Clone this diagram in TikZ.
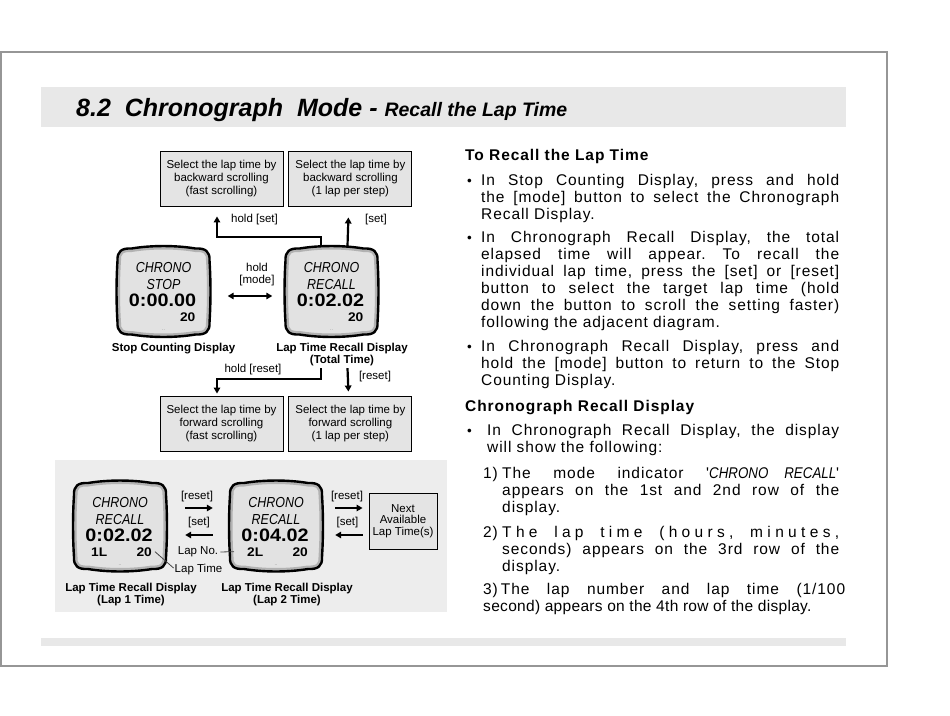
\documentclass[tikz,border=0pt]{standalone}
\usepackage{fontspec}
\setmainfont{Liberation Sans}
\newfontfamily\lcdfont[FakeStretch=0.86]{Liberation Sans}
\newfontfamily\lcdnumfont[FakeStretch=1.1]{Liberation Sans}
\newfontfamily\bodyfont[LetterSpace=6]{Liberation Sans}
\usetikzlibrary{positioning,arrows.meta,calc}
\definecolor{dFrame}{RGB}{150,150,150}
\definecolor{dBand}{RGB}{232,232,232}
\definecolor{dBox}{RGB}{228,228,228}
\definecolor{dLcd}{RGB}{226,226,226}
\definecolor{dRim}{RGB}{178,178,178}
\definecolor{dPanel}{RGB}{237,237,237}
\definecolor{dLead}{RGB}{70,70,70}
\frenchspacing
\tikzset{
  selbox/.style={rectangle, draw=black, fill=dBox, line width=0.9pt,
                 minimum width=123pt, minimum height=55pt, align=center,
                 inner sep=2pt, font=\fontsize{11.5}{13}\selectfont},
  nextbox/.style={selbox, minimum width=68pt, minimum height=56pt,
                  font=\fontsize{11.5}{11.5}\selectfont},
  flow/.style={-{Triangle[length=6pt,width=6.5pt]}, draw=black, line width=2.2pt},
  biflow/.style={{Triangle[length=6pt,width=6.5pt]}-{Triangle[length=6pt,width=6.5pt]},
                 draw=black, line width=2.2pt},
  lbl/.style={font=\fontsize{11.5}{12}\selectfont, inner sep=0pt, align=center},
  capt/.style={font=\bfseries\fontsize{11.5}{12}\selectfont, inner sep=0pt, align=center},
  lead/.style={draw=dLead, line width=0.8pt},
}
\tikzset{
  lcdbox/.style={rectangle, minimum width=92pt, minimum height=91pt, inner sep=0pt},
  lcdedge/.style={draw=black, line width=2.4pt, line join=round},
  lcdrim/.style={draw=dRim, line width=7pt},
  lcdmode/.style={font=\lcdfont\itshape\fontsize{14.5}{14.5}\selectfont, anchor=base, inner sep=0pt},
  lcdtime/.style={font=\lcdnumfont\bfseries\fontsize{18}{18}\selectfont, anchor=base, inner sep=0pt},
  lcdnum/.style={font=\lcdnumfont\bfseries\fontsize{12.5}{12.5}\selectfont, inner sep=0pt},
  lcddots/.style={font=\fontsize{5}{5}\selectfont, text=gray, inner sep=0pt},
}
\tikzset{
  headtxt/.style={font=\bodyfont\bfseries\fontsize{15.5}{17}\selectfont, anchor=base west, inner sep=0pt},
  bodytxt/.style={font=\bodyfont\fontsize{15.5}{17}\selectfont, anchor=base west,
               inner sep=0pt, align=justify},
  numtxt/.style={font=\bodyfont\fontsize{15.5}{17}\selectfont, anchor=base west, inner sep=0pt},
  bul/.style={font=\fontsize{13.5}{17}\selectfont, anchor=base, inner sep=0pt},
}
\newcommand{\LcdShape}{(-46,-31) .. controls (-46.5,-40) and (-42,-43.5) .. (-32,-43)
  .. controls (-12,-46.3) and (12,-46.3) .. (32,-43)
  .. controls (42,-43.5) and (46.5,-40) .. (46,-31)
  .. controls (47.3,-11) and (47.3,11) .. (46,31)
  .. controls (46.5,40) and (42,43.5) .. (32,43)
  .. controls (12,46.3) and (-12,46.3) .. (-32,43)
  .. controls (-42,43.5) and (-46.5,40) .. (-46,31)
  .. controls (-47.3,11) and (-47.3,-11) .. cycle}
\newcommand{\LcdDisp}[8]{%
  \node[lcdbox] (#1) at (#2,#3) {};
  \begin{scope}[shift={(#2,#3)}]
    \fill[dLcd] \LcdShape;
    \begin{scope}\clip \LcdShape; \draw[lcdrim] \LcdShape; \end{scope}
    \draw[lcdedge] \LcdShape;
  \end{scope}
  \node[lcdmode] (#1-a) at ($(#1)+(0,-19)$) {#4};
  \node[lcdmode] (#1-b) at ($(#1)+(0,-2)$) {#5};
  \node[lcdtime] (#1-t) at ($(#1)+(-1,15)$) {#6};
  \node[lcdnum, anchor=base west] (#1-l) at ($(#1)+(-29,30)$) {#7};
  \node[lcdnum, anchor=base east] (#1-r) at ($(#1)+(32,30)$) {#8};
  \node[lcddots] (#1-d) at ($(#1)+(0,39)$) {..};}

\begin{document}
\begin{tikzpicture}[x=1pt,y=-1pt]
  \useasboundingbox (0,0) rectangle (950,715);
  % --- page frame, bands, panel ------------------------------------------
  \draw[dFrame, line width=1.2pt] (1,52) rectangle (887,666);
  \fill[dBand] (41,87) rectangle (846,127);
  \fill[dBand] (41,638) rectangle (846,646);
  \fill[dPanel] (55,460) rectangle (447,612);
  \node[anchor=base west, inner sep=0pt] (title) at (76,116)
    {\bfseries\itshape\fontsize{25}{25}\selectfont 8.2\ \ Chronograph\ \ Mode -
     {\fontsize{19.5}{20}\selectfont Recall the Lap Time}};

  % --- selection boxes ----------------------------------------------------
  \node[selbox] (backFast) at (221.5,178.5) {Select the lap time by\\backward scrolling\\(fast scrolling)};
  \node[selbox, right=5pt of backFast] (backStep) {Select the lap time by\\backward scrolling\\(1 lap per step)};
  \node[selbox] (fwdFast) at (221.5,423.5) {Select the lap time by\\forward scrolling\\(fast scrolling)};
  \node[selbox, right=5pt of fwdFast] (fwdStep) {Select the lap time by\\forward scrolling\\(1 lap per step)};

  % --- displays -----------------------------------------------------------
  \LcdDisp{lcdStop}{163.5}{291.5}{CHRONO}{STOP}{0:00.00}{}{20}
  \LcdDisp{lcdTotal}{331.5}{291.5}{CHRONO}{RECALL}{0:02.02}{}{20}
  \LcdDisp{lcdLapA}{120}{526}{CHRONO}{RECALL}{0:02.02}{1L}{20}
  \LcdDisp{lcdLapB}{276}{526}{CHRONO}{RECALL}{0:04.02}{2L}{20}
  \node[nextbox] (nextLap) at (403,521) {Next\\Available\\Lap Time(s)};

  % --- captions and labels ------------------------------------------------
  \node[capt] (capStop) at (173.5,349) {Stop Counting Display};
  \node[capt] (capTotal) at (342,355) {Lap Time Recall Display\\(Total Time)};
  \node[capt] (capLapA) at (131,595) {Lap Time Recall Display\\(Lap 1 Time)};
  \node[capt] (capLapB) at (287,595) {Lap Time Recall Display\\(Lap 2 Time)};
  \node[lbl] (lblHoldSet) at (254.5,220) {hold [set]};
  \node[lbl] (lblSet) at (376,220) {[set]};
  \node[lbl] (lblMode) at (257,275) {hold\\{[mode]}};
  \node[lbl] (lblHoldReset) at (253,370) {hold [reset]};
  \node[lbl] (lblReset) at (375,377) {[reset]};
  \node[lbl] (lblResetA) at (197,497) {[reset]};
  \node[lbl] (lblSetA) at (199,523) {[set]};
  \node[lbl] (lblResetB) at (347,497) {[reset]};
  \node[lbl] (lblSetB) at (347.5,523) {[set]};
  \node[lbl] (lapNo) at (198,552) {Lap No.};
  \node[lbl] (lapTime) at (198.5,570) {Lap Time};

  % --- button transitions -------------------------------------------------
  \draw[flow] ($(lcdTotal.north)+(-10.5,0)$) -- ++(0,-9) -| ($(backFast.south)+(-4.5,10)$);
  \draw[flow] ($(lcdTotal.north)+(16,0)$) -- ($(backStep.south)+(-2,11)$);
  \draw[biflow] ($(lcdStop.east)+(18,4.5)$) -- ($(lcdTotal.west)+(-13,4.5)$);
  \draw[flow] ($(lcdTotal.south)+(-10.5,31)$) -- ++(0,11) -| ($(fwdFast.north)+(-4.5,-2)$);
  \draw[flow] ($(lcdTotal.south)+(16,31)$) -- ($(fwdStep.north)+(-2,-4)$);
  \draw[flow] ($(lcdLapA.east)+(19,-18)$) -- ($(lcdLapB.west)+(-17,-18)$);
  \draw[flow] ($(lcdLapB.west)+(-17,9)$) -- ($(lcdLapA.east)+(19,9)$);
  \draw[flow] ($(lcdLapB.east)+(13,-18)$) -- ($(nextLap.west)+(-6,-13)$);
  \draw[flow] ($(nextLap.west)+(-6,14)$) -- ($(lcdLapB.east)+(13,9)$);
  \draw[lead] ($(lapNo.east)+(2,0)$) -- ($(lcdLapB-l.west)+(-13,0)$);
  \draw[lead] ($(lcdLapA-r.east)+(3,0)$) -- ($(lapTime.west)+(-1,-2)$);

  % --- right column text --------------------------------------------------
  \node[headtxt] (headRecall) at (465,160) {To Recall the Lap Time};
  \node[bul] (dotA) at (469.5,185) {•};
  \node[bodytxt, text width=358pt] (parA) at (481,185) {In Stop Counting Display, press and hold\linebreak
    the [mode] button to select the Chronograph\linebreak Recall Display.};
  \node[bul] (dotB) at (469.5,242) {•};
  \node[bodytxt, text width=358pt] (parB) at (481,242) {In Chronograph Recall Display, the total\linebreak
    elapsed time will appear. To recall the\linebreak individual lap time, press the [set] or [reset]\linebreak
    button to select the target lap time (hold\linebreak down the button to scroll the setting faster)\linebreak
    following the adjacent diagram.};
  \node[bul] (dotC) at (469.5,351) {•};
  \node[bodytxt, text width=358pt] (parC) at (481,351) {In Chronograph Recall Display, press and\linebreak
    hold the [mode] button to return to the Stop\linebreak Counting Display.};
  \node[headtxt] (headDisp) at (465,411) {Chronograph Recall Display};
  \node[bul] (dotD) at (469.5,435) {•};
  \node[bodytxt, text width=352pt] (parD) at (487,435) {In Chronograph Recall Display, the display\linebreak
    will show the following:};
  \node[numtxt] (numA) at (483,478) {1)};
  \node[bodytxt, text width=337pt] (itemA) at (502,478) {The mode indicator
    \textquotesingle{\lcdfont\itshape CHRONO RECALL}\textquotesingle\linebreak
    appears on the 1st and 2nd row of the\linebreak display.};
  \node[numtxt] (numB) at (483,537) {2)};
  \node[bodytxt, text width=337pt] (itemB) at (502,537) {{\addfontfeature{LetterSpace=28}The lap time (hours, minutes,}\linebreak
    seconds) appears on the 3rd row of the\linebreak display.};
  \node[bodytxt, text width=362pt] (itemC) at (483,594) {3)\hspace{3pt}The lap number and lap time (1/100\linebreak
    {\addfontfeature{LetterSpace=2}second) appears on the 4th row of the display.}};
\end{tikzpicture}
\end{document}
